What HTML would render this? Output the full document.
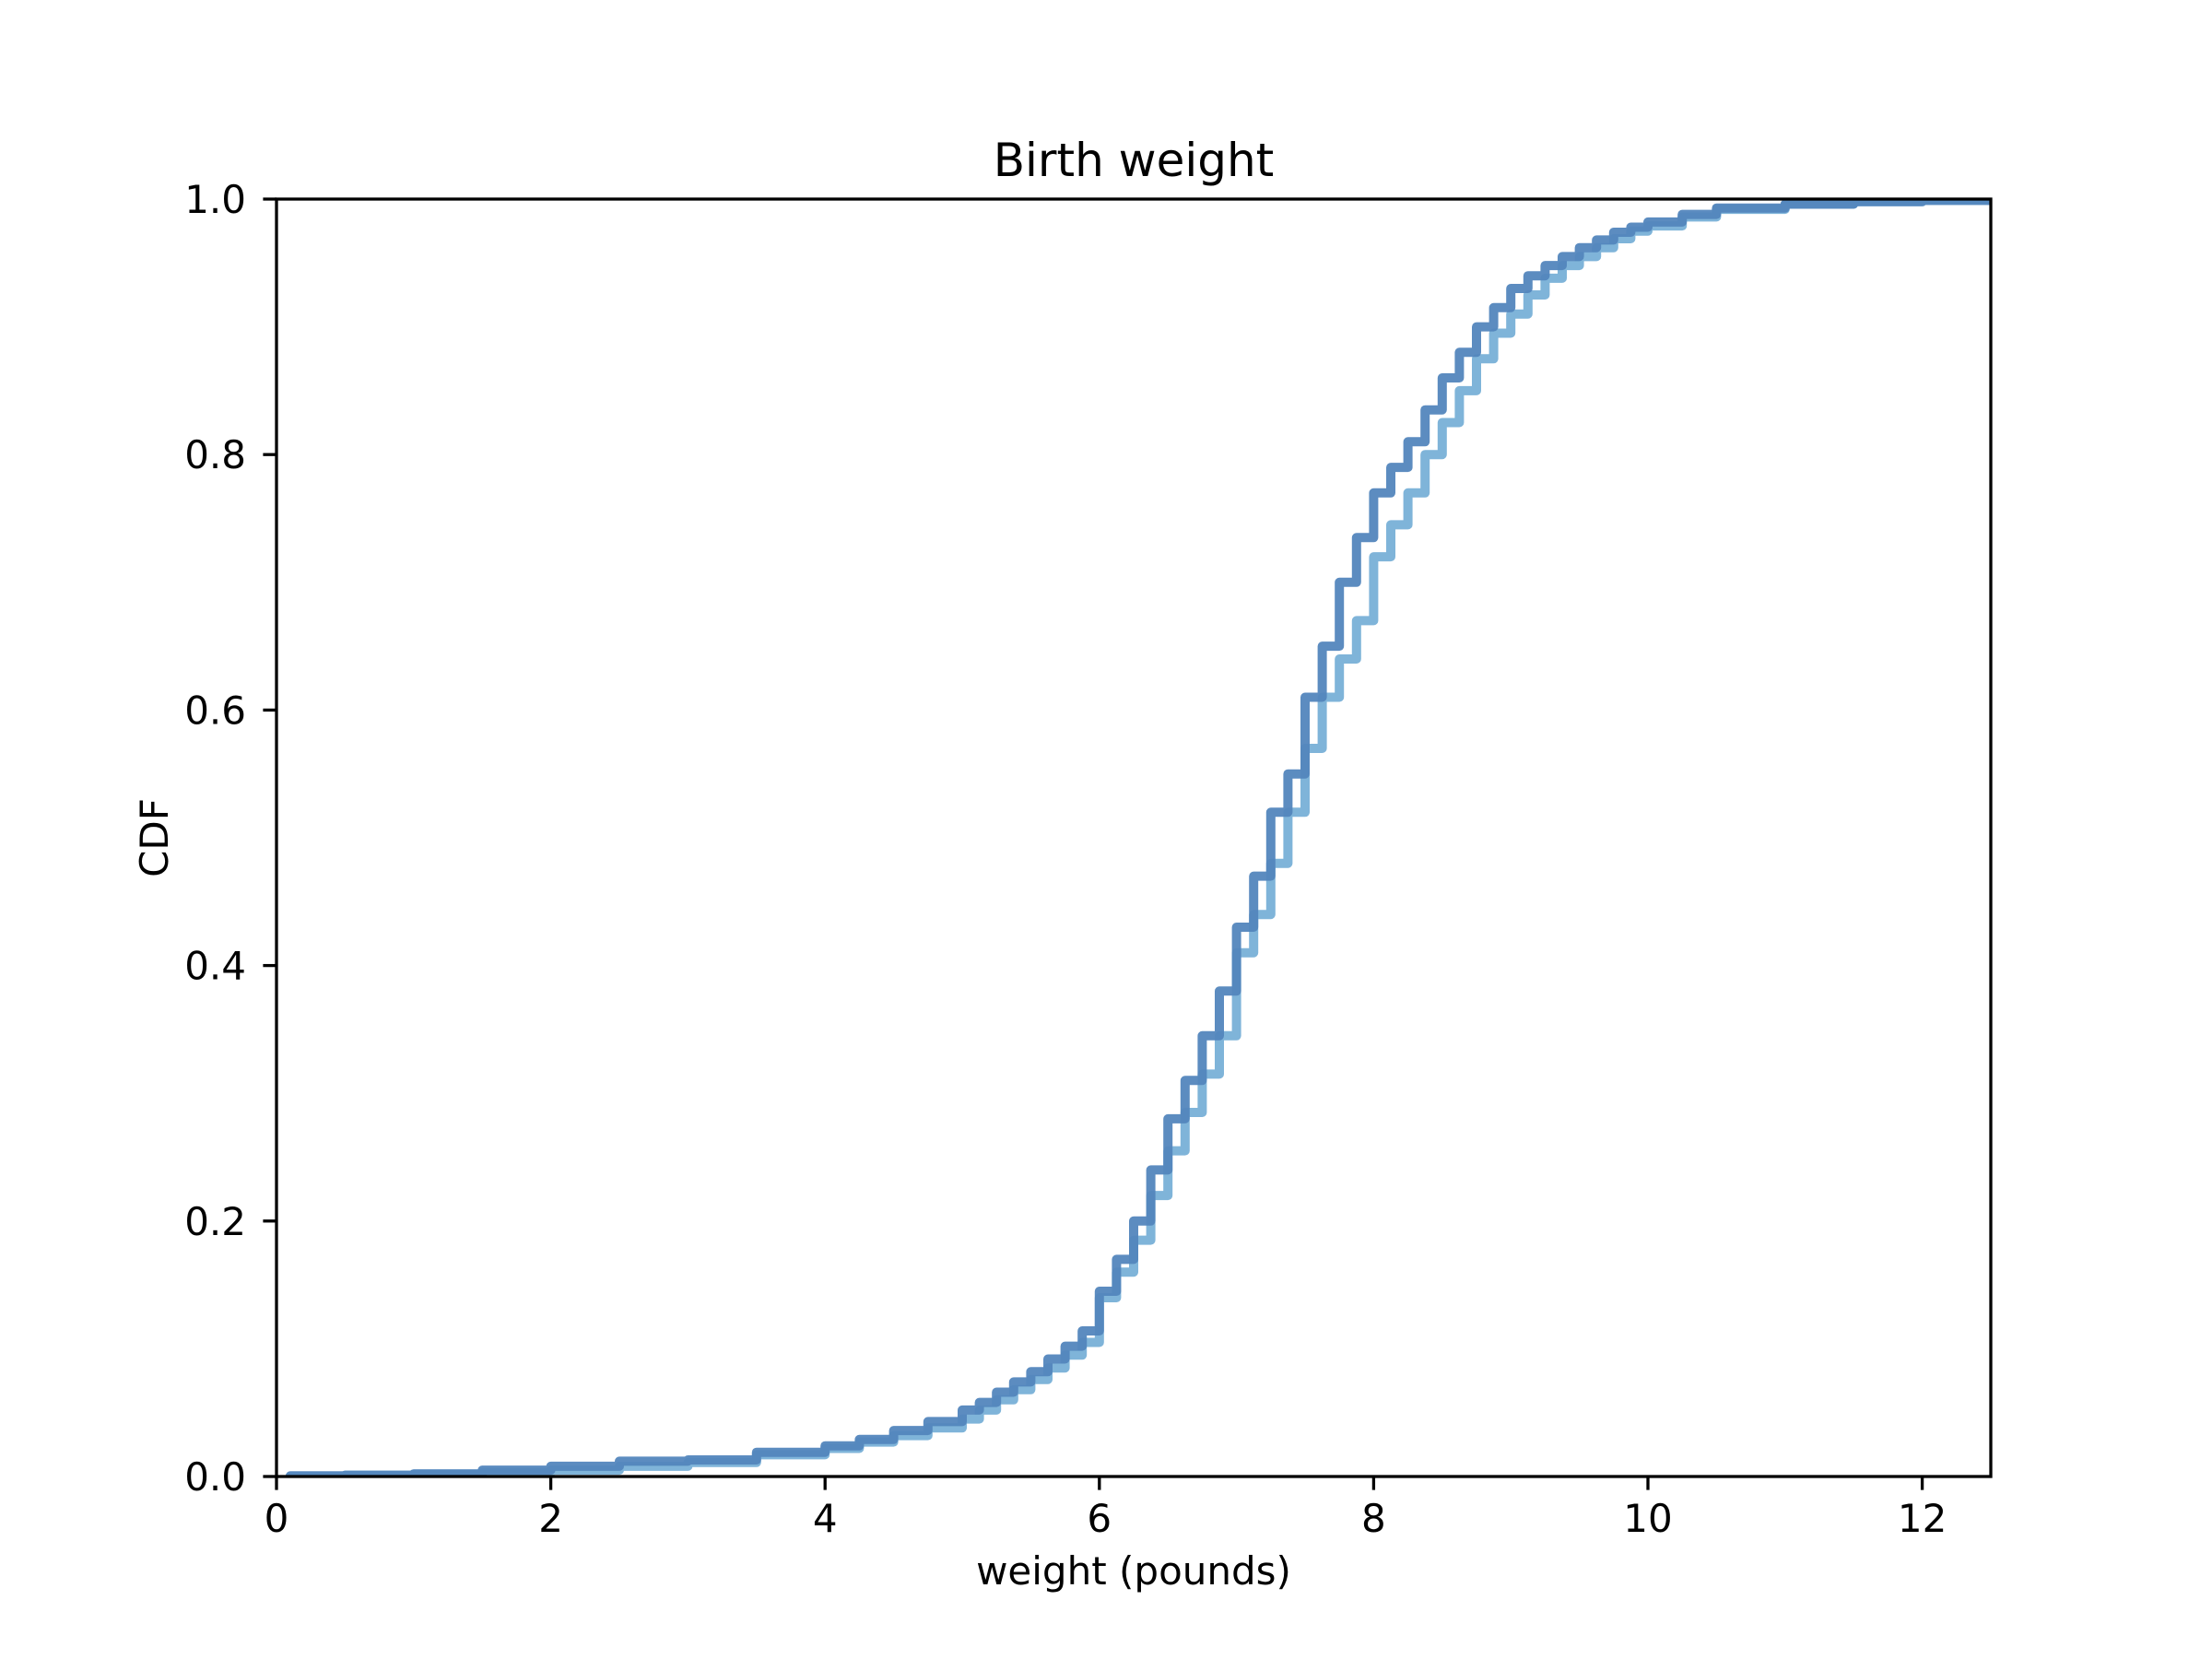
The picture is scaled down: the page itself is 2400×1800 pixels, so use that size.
<!DOCTYPE html>
<html><head><meta charset="utf-8"><style>
html,body{margin:0;padding:0;background:#fff;}
svg{display:block;font-family:"DejaVu Sans","Liberation Sans",sans-serif;}
</style></head><body>
<svg id="chart" width="2400" height="1800" viewBox="0 0 2400 1800" xmlns="http://www.w3.org/2000/svg">
<rect width="2400" height="1800" fill="#fff"/>
<defs><clipPath id="plotclip"><rect x="300" y="216" width="1860" height="1386"/></clipPath></defs>
<g id="series" clip-path="url(#plotclip)"></g>
<g id="axes"></g>
<text x="1230" y="191" font-size="50" text-anchor="middle">Birth weight</text>
<text x="1230" y="1719" font-size="42" text-anchor="middle">weight (pounds)</text>
<text x="0" y="0" font-size="42" text-anchor="middle" transform="translate(182,909) rotate(-90)">CDF</text>
</svg>
<script>
const xTicks = [0, 2, 4, 6, 8, 10, 12];
const yTicks = [0.0, 0.2, 0.4, 0.6, 0.8, 1.0];
const yTickLabels = ["0.0", "0.2", "0.4", "0.6", "0.8", "1.0"];
const weights = [0.1,0.5,1,1.5,2,2.5,3,3.5,4,4.25,4.5,4.75,
  5,5.125,5.25,5.375,5.5,5.625,5.75,5.875,6,6.125,6.25,6.375,6.5,6.625,6.75,6.875,
  7,7.125,7.25,7.375,7.5,7.625,7.75,7.875,8,8.125,8.25,8.375,8.5,8.625,8.75,8.875,
  9,9.125,9.25,9.375,9.5,9.625,9.75,9.875,10,10.25,10.5,11,11.5,12,12.5];
const cdfLight = [0,0.001,0.002,0.003,0.005,0.008,0.011,0.017,0.022,0.027,0.032,0.038,
  0.045,0.052,0.06,0.068,0.076,0.085,0.095,0.105,0.14,0.16,0.185,0.22,0.255,0.285,0.315,0.345,
  0.41,0.44,0.48,0.52,0.57,0.61,0.64,0.67,0.72,0.745,0.77,0.80,0.825,0.85,0.875,0.895,
  0.91,0.925,0.938,0.948,0.955,0.962,0.969,0.975,0.979,0.986,0.992,0.996,0.998,0.999,1.0];
const cdfDark = [0.0005,0.001,0.002,0.005,0.008,0.012,0.013,0.019,0.024,0.029,0.036,0.043,
  0.052,0.058,0.066,0.074,0.082,0.092,0.102,0.114,0.145,0.17,0.20,0.24,0.28,0.31,0.345,0.38,
  0.43,0.47,0.52,0.55,0.61,0.65,0.70,0.735,0.77,0.79,0.81,0.835,0.86,0.88,0.90,0.915,
  0.93,0.94,0.948,0.955,0.962,0.968,0.974,0.978,0.982,0.988,0.993,0.996,0.998,0.999,1.0];

const L=300,R=2160,T=216,B=1602, XMAX=12.5;
const xs = v => L + v/XMAX*(R-L);
const ys = v => B - v*(B-T);
const NS="http://www.w3.org/2000/svg";
function stepPath(xv, yv){
  let d = "M"+xs(xv[0]).toFixed(1)+","+ys(yv[0]).toFixed(1);
  for(let i=1;i<xv.length;i++){ d += "H"+xs(xv[i]).toFixed(1)+"V"+ys(yv[i]).toFixed(1); }
  return d;
}
const g = document.getElementById('series');
const p1 = document.createElementNS(NS,'path');


p1.setAttribute('d', stepPath(weights, cdfLight));
p1.setAttribute('fill','none'); p1.setAttribute('stroke','#7fb4d9'); p1.setAttribute('stroke-width','10');
p1.setAttribute('stroke-linejoin','round'); p1.setAttribute('stroke-linecap','round');
g.appendChild(p1);
const p2 = document.createElementNS(NS,'path');


p2.setAttribute('d', stepPath(weights, cdfDark));
p2.setAttribute('fill','none'); p2.setAttribute('stroke','#5386bd'); p2.setAttribute('stroke-width','10'); p2.setAttribute('stroke-opacity','0.95');
p2.setAttribute('stroke-linejoin','round'); p2.setAttribute('stroke-linecap','round');
g.appendChild(p2);

const ax = document.getElementById('axes');
const frame = document.createElementNS(NS,'rect');


frame.setAttribute('x',L); frame.setAttribute('y',T); frame.setAttribute('width',R-L); frame.setAttribute('height',B-T);
frame.setAttribute('fill','none'); frame.setAttribute('stroke','#000'); frame.setAttribute('stroke-width','3.3');
ax.appendChild(frame);
xTicks.forEach(v=>{
  const t=document.createElementNS(NS,'line');
  
  
  t.setAttribute('x1',xs(v)); t.setAttribute('x2',xs(v)); t.setAttribute('y1',B); t.setAttribute('y2',B+14.6);
  t.setAttribute('stroke','#000'); t.setAttribute('stroke-width','3.3'); ax.appendChild(t);
  const tx=document.createElementNS(NS,'text');
  
  
  tx.setAttribute('x',xs(v)); tx.setAttribute('y',1662); tx.setAttribute('font-size','42'); tx.setAttribute('text-anchor','middle');
  tx.textContent=String(v); ax.appendChild(tx);
});
yTicks.forEach((v,i)=>{
  const t=document.createElementNS(NS,'line');
  
  
  t.setAttribute('x1',L-14.6); t.setAttribute('x2',L); t.setAttribute('y1',ys(v)); t.setAttribute('y2',ys(v));
  t.setAttribute('stroke','#000'); t.setAttribute('stroke-width','3.3'); ax.appendChild(t);
  const tx=document.createElementNS(NS,'text');
  
  
  tx.setAttribute('x',267); tx.setAttribute('y',ys(v)+15); tx.setAttribute('font-size','42'); tx.setAttribute('text-anchor','end');
  tx.textContent=yTickLabels[i]; ax.appendChild(tx);
});
</script>
</body></html>
